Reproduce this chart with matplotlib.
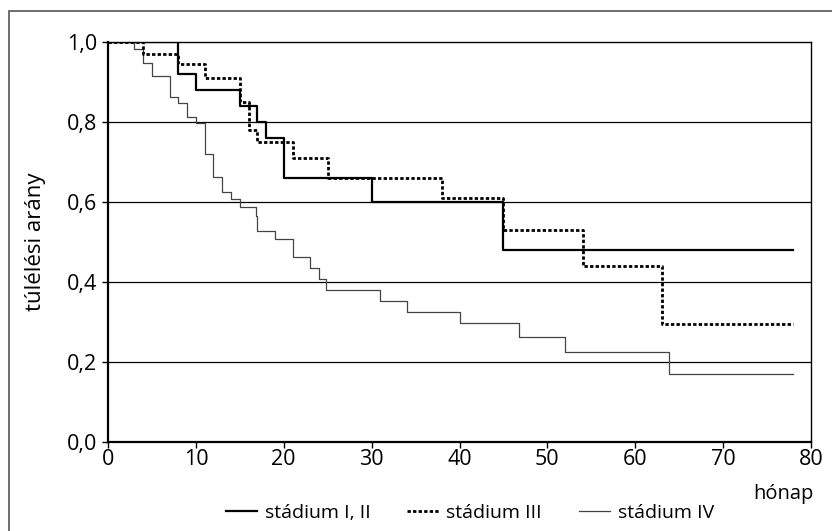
import numpy as np
import matplotlib.pyplot as plt
from matplotlib.lines import Line2D
from matplotlib.patches import Rectangle

plt.rcParams['font.family'] = ['Open Sans', 'DejaVu Sans']

# Kaplan-Meier steps: time where the step starts (months) and survival from there
t_12 = [0, 8, 10, 15, 17, 18, 20, 30, 45, 78]
s_12 = [1.0, 0.92, 0.88, 0.84, 0.80, 0.76, 0.66, 0.60, 0.48, 0.48]

t_3 = [0, 4, 8, 11, 15, 16, 17, 21, 25, 38, 45, 54, 63, 78]
s_3 = [1.0, 0.97, 0.944, 0.91, 0.85, 0.78, 0.75, 0.71, 0.66, 0.61, 0.53, 0.44, 0.295, 0.295]

t_4 = [0, 3, 4, 5, 7, 8, 9, 10, 11, 12, 13, 14, 15, 16.8, 17, 19, 21, 23, 24, 24.8,
       31, 34, 40, 46.8, 52, 63.8, 78]
s_4 = [1.0, 0.982, 0.948, 0.915, 0.862, 0.848, 0.811, 0.796, 0.72, 0.663, 0.625, 0.606,
       0.586, 0.565, 0.527, 0.507, 0.462, 0.435, 0.408, 0.38, 0.353, 0.325, 0.297,
       0.263, 0.225, 0.17, 0.17]

labels = ['stádium I, II', 'stádium III', 'stádium IV']
xticks = np.arange(0, 81, 10)
yticks = np.arange(0, 1.01, 0.2)

fig = plt.figure(figsize=(8.32, 5.31), dpi=100)
ax = fig.add_axes([108/832, 1 - 441.7/531, (811 - 108)/832, 400/531])

ax.step(t_12, s_12, where='post', color='black', lw=1.6, label=labels[0], zorder=4)
ax.step(t_3, s_3, where='post', color='black', lw=2.0, ls=(0, (1.2, 0.8)), label=labels[1], zorder=5)
ax.step(t_4, s_4, where='post', color='#444444', lw=0.9, label=labels[2], zorder=3)

ax.set_xlim(0, 80)
ax.set_ylim(0, 1.0)
ax.set_xticks(xticks)
ax.set_yticks(yticks)
ax.set_yticklabels([f'{v:.1f}'.replace('.', ',') for v in yticks])
ax.tick_params(axis='both', labelsize=15.5, direction='out', length=4, width=1, colors='black')
ax.tick_params(axis='y', pad=4)
ax.tick_params(axis='x', pad=1)
for y in yticks[1:-1]:
    ax.axhline(y, color='black', lw=0.9, zorder=1)
for sp in ax.spines.values():
    sp.set_linewidth(1.0)
ax.spines['left'].set_linewidth(1.6)
ax.spines['bottom'].set_linewidth(1.6)

ax.set_ylabel('túlélési arány', fontsize=16)
ax.yaxis.set_label_coords(-0.088, 0.5)
fig.text(814/832, 1 - 494/531, 'hónap', fontsize=14.5, ha='right', va='center')

handles = [Line2D([], [], color='black', lw=1.6),
           Line2D([], [], color='black', lw=2.0, ls=(0, (1.2, 0.8))),
           Line2D([], [], color='#444444', lw=0.9)]
fig.legend(handles, labels, loc='center', bbox_to_anchor=(470/832, 1 - 513/531), ncol=3,
           frameon=False, fontsize=14, handlelength=1.6, handletextpad=0.4,
           columnspacing=1.9)

# outer frame round the whole figure (right and bottom edges lie outside)
fig.patches.append(Rectangle((9/832, -0.1), 1.2, 1.1 - 10.7/531, transform=fig.transFigure,
                             fill=False, edgecolor='#555555', lw=1.2))

fig.savefig('out.png', dpi=100)
